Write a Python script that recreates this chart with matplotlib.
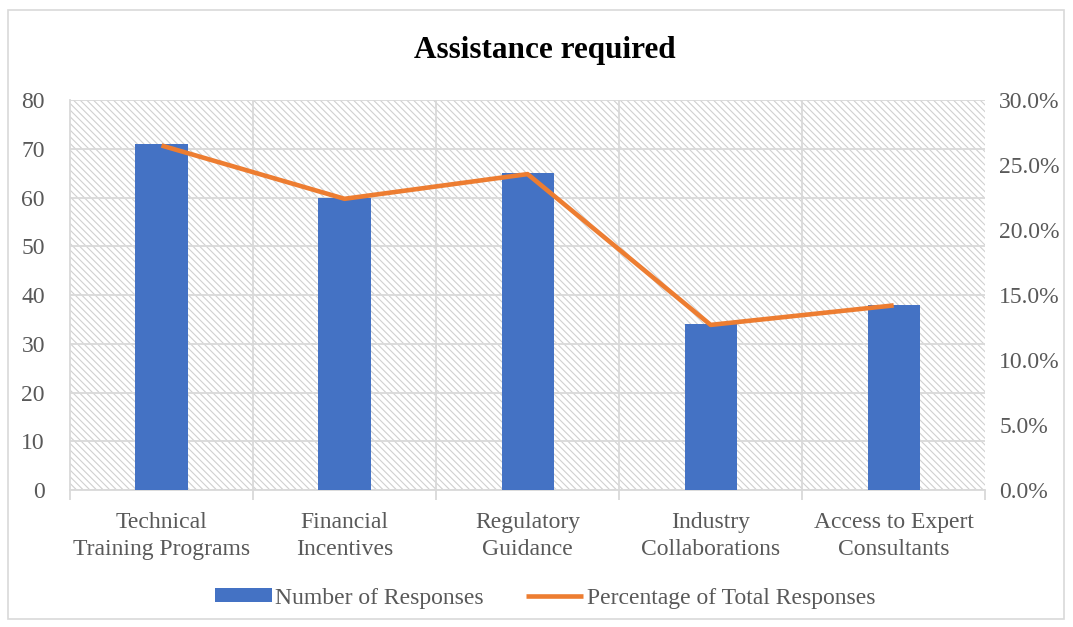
import matplotlib.pyplot as plt
import numpy as np
from matplotlib.patches import Rectangle
from matplotlib.ticker import FuncFormatter, MultipleLocator

categories = ['Technical\nTraining Programs', 'Financial\nIncentives', 'Regulatory\nGuidance',
              'Industry\nCollaborations', 'Access to Expert\nConsultants']
responses = [71, 60, 65, 34, 38]
percentages = [26.5, 22.4, 24.3, 12.7, 14.2]

blue = '#4472C4'
orange = '#ED7D31'
grid_c = '#D9D9D9'
text_c = '#595959'

plt.rcParams['font.family'] = ['Liberation Serif', 'DejaVu Serif']
plt.rcParams['hatch.color'] = '#D0D0D0'
plt.rcParams['hatch.linewidth'] = 0.8

fig = plt.figure(figsize=(10.73, 6.27), dpi=100)
fig.patches.append(Rectangle((0.007, 0.012), 0.985, 0.972, transform=fig.transFigure,
                             fill=False, edgecolor=grid_c, linewidth=1.2))

ax = fig.add_axes([0.0652, 0.2185, 0.853, 0.622])
ax2 = ax.twinx()

x = np.arange(len(categories))
ax.set_xlim(-0.5, len(categories) - 0.5)
ax.set_ylim(0, 80)
ax2.set_ylim(0, 30)

# hatched plot area
ax.add_patch(Rectangle((0, 0), 1, 1, transform=ax.transAxes, facecolor='white',
                       hatch='\\\\\\\\\\', edgecolor='#D0D0D0', linewidth=0, zorder=0))

ax.yaxis.set_major_locator(MultipleLocator(10))
ax.grid(axis='y', color=grid_c, linewidth=1.3, zorder=1)
for b in np.arange(0.5, len(categories) - 1, 1):
    ax.axvline(b, color=grid_c, linewidth=1.3, zorder=1)
ax.set_axisbelow(True)

bars = ax.bar(x, responses, width=0.285, color=blue, zorder=3, label='Number of Responses')
line, = ax2.plot(x, percentages, color=orange, linewidth=3.3, solid_capstyle='butt',
                 label='Percentage of Total Responses', zorder=4)

for a in (ax, ax2):
    for s in a.spines.values():
        s.set_visible(False)
ax.spines['bottom'].set_visible(True)
ax.spines['bottom'].set_color(grid_c)
ax.spines['bottom'].set_linewidth(1.3)
ax.spines['left'].set_visible(True)
ax.spines['left'].set_color(grid_c)
ax.spines['left'].set_linewidth(1.3)

ax.set_xticks(x)
ax.set_xticklabels(categories)
for t in ax.get_xticklabels():
    t.set_linespacing(1.35)
ax.set_xticks(np.arange(-0.5, len(categories), 1), minor=True)
ax.tick_params(axis='x', which='major', length=0, pad=16, labelsize=17, colors=text_c)
ax.tick_params(axis='x', which='minor', length=7, color=grid_c, width=1.3)
ax.tick_params(axis='y', length=0, pad=18, labelsize=17, colors=text_c)

ax2.yaxis.set_major_locator(MultipleLocator(5))
ax2.yaxis.set_major_formatter(FuncFormatter(lambda v, p: f'{v:.1f}%'))
ax2.tick_params(axis='y', length=0, pad=10, labelsize=17, colors=text_c)
ax2.set_zorder(ax.get_zorder() + 1)
ax2.patch.set_visible(False)

fig.suptitle('Assistance required', x=0.508, y=0.943, fontsize=22.5, fontweight='bold')

fig.legend(handles=[bars, line], loc='center', bbox_to_anchor=(0.508, 0.046), ncol=2,
           frameon=False, fontsize=17, labelcolor=text_c, handlelength=2.4,
           handleheight=0.55, columnspacing=1.8, handletextpad=0.15)

fig.savefig('out.png', dpi=100)
